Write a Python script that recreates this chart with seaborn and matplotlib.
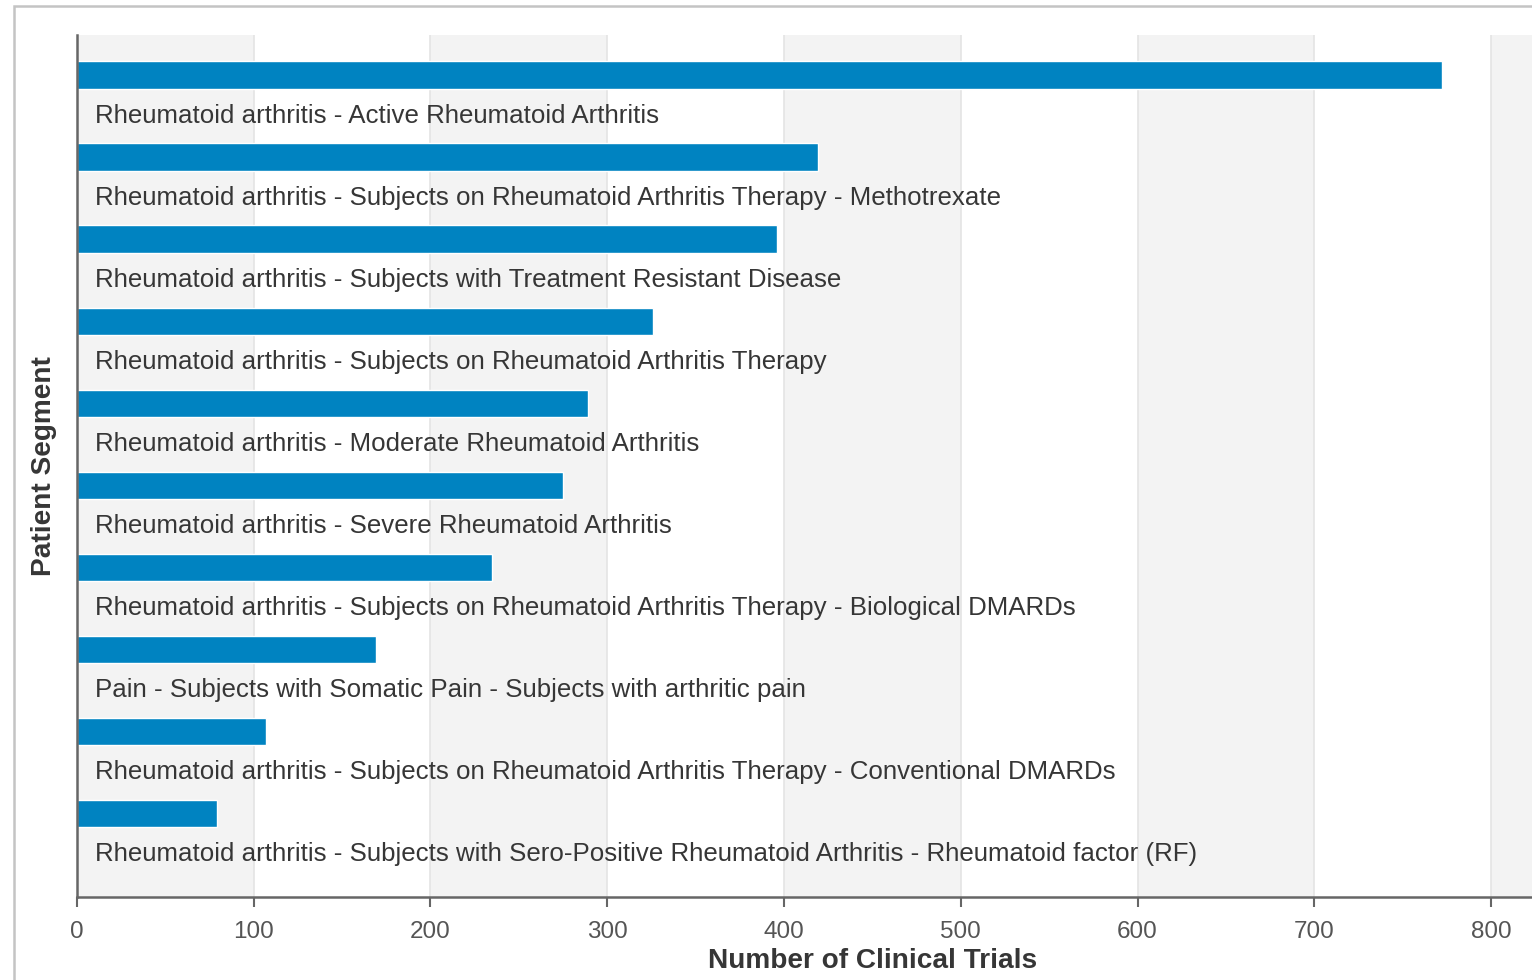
# patient segments by number of clinical trials

import numpy as np
import pandas as pd
import matplotlib.pyplot as plt
import seaborn as sns
from matplotlib.patches import Rectangle


SEGMENTS = [
    'Rheumatoid arthritis - Active Rheumatoid Arthritis',
    'Rheumatoid arthritis - Subjects on Rheumatoid Arthritis Therapy - Methotrexate',
    'Rheumatoid arthritis - Subjects with Treatment Resistant Disease',
    'Rheumatoid arthritis - Subjects on Rheumatoid Arthritis Therapy',
    'Rheumatoid arthritis - Moderate Rheumatoid Arthritis',
    'Rheumatoid arthritis - Severe Rheumatoid Arthritis',
    'Rheumatoid arthritis - Subjects on Rheumatoid Arthritis Therapy - Biological DMARDs',
    'Pain - Subjects with Somatic Pain - Subjects with arthritic pain',
    'Rheumatoid arthritis - Subjects on Rheumatoid Arthritis Therapy - Conventional DMARDs',
    'Rheumatoid arthritis - Subjects with Sero-Positive Rheumatoid Arthritis - Rheumatoid factor (RF)',
]
TRIALS = [772, 419, 396, 326, 289, 275, 235, 169, 107, 79]
X_TICKS = [0, 100, 200, 300, 400, 500, 600, 700, 800]

BAR_COLOR = '#0083C1'
TEXT_COLOR = '#363636'
TICK_COLOR = '#555555'

W, H = 1532, 980

sns.set_theme(style='white')
plt.rcParams['font.family'] = ['Liberation Sans', 'DejaVu Sans']

df = pd.DataFrame({'segment': SEGMENTS, 'trials': TRIALS})

fig = plt.figure(figsize=(W / 100, H / 100), dpi=100)
ax = fig.add_axes([77 / W, (H - 897) / H, (W - 77) / W, (897 - 35) / H])

sns.barplot(data=df, x='trials', y='segment', orient='h', color=BAR_COLOR,
            saturation=1, width=0.335, ax=ax, zorder=2)

ax.set_facecolor('#ffffff')
# alternating vertical bands between the ticks
edges = X_TICKS + [X_TICKS[-1] + 100]
for i in range(len(X_TICKS)):
    if i % 2 == 0:
        ax.add_patch(Rectangle((edges[i], 0), edges[i + 1] - edges[i], 1,
                               transform=ax.get_xaxis_transform(),
                               facecolor='#f3f3f3', edgecolor='none', zorder=0.1))
for t in X_TICKS[1:]:
    ax.axvline(t, color='#e4e4e4', lw=1.2, zorder=0.5)

for i, seg in enumerate(SEGMENTS):
    ax.text(18 / (W - 77), i + 0.50, seg, transform=ax.get_yaxis_transform(),
            ha='left', va='center', fontsize=18.6, color=TEXT_COLOR, zorder=3)

ax.set_xlim(0, (W - 77) / 176.75 * 100)
ax.set_ylim(10.02, -0.49)
ax.set_xticks(X_TICKS)
ax.set_yticks([])
ax.set_xlabel('')
ax.set_ylabel('')
ax.tick_params(axis='x', bottom=True, length=7, width=1.5, color='#666666',
               labelsize=17.5, labelcolor=TICK_COLOR, pad=10)
for s in ['top', 'right']:
    ax.spines[s].set_visible(False)
for s in ['left', 'bottom']:
    ax.spines[s].set_color('#666666')
    ax.spines[s].set_linewidth(1.8)
    ax.spines[s].set_zorder(4)

fig.text(873 / W, 1 - 961 / H, 'Number of Clinical Trials', ha='center', va='center',
         fontsize=20.2, fontweight='bold', color=TEXT_COLOR)
fig.text(44 / W, 1 - 466 / H, 'Patient Segment', ha='center', va='center',
         rotation=90, fontsize=20.2, fontweight='bold', color=TEXT_COLOR)

# outer frame (cut off at right and bottom)
fig.patches.append(Rectangle((14 / W, -0.1), 2, 1 - 6 / H + 0.1,
                             transform=fig.transFigure, fill=False,
                             edgecolor='#c4c4c4', lw=1.8))

plt.savefig('out.png', dpi=100)
plt.close()
